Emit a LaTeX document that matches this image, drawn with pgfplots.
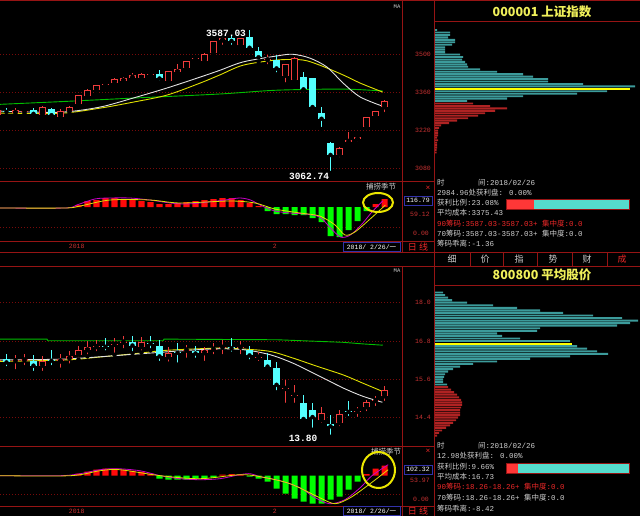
\documentclass[border=0pt]{standalone}
\usepackage{fontspec}
\setmainfont{Liberation Mono}
\newfontfamily\cjk{Noto Sans CJK SC}
\usepackage{pgfplots}
\pgfplotsset{compat=1.18}
\usepackage{pgfplotstable}

\definecolor{framered}{RGB}{150,20,20}
\definecolor{gridred}{RGB}{120,10,10}
\definecolor{lblred}{RGB}{200,50,50}
\definecolor{cred}{RGB}{240,60,60}
\definecolor{ccyan}{RGB}{84,255,255}
\definecolor{mred}{RGB}{255,10,10}
\definecolor{mgreen}{RGB}{0,255,0}
\definecolor{mawhite}{RGB}{225,225,225}
\definecolor{mayellow}{RGB}{225,225,0}
\definecolor{magreen}{RGB}{0,190,0}
\definecolor{mmag}{RGB}{200,0,200}
\definecolor{chipteal}{RGB}{60,155,155}
\definecolor{chipred}{RGB}{175,35,35}
\definecolor{chipyel}{RGB}{255,255,0}
\definecolor{ttlyel}{RGB}{240,240,90}
\definecolor{tgray}{RGB}{205,205,205}
\definecolor{tred}{RGB}{235,40,40}
\definecolor{navy}{RGB}{50,50,170}
\definecolor{pred}{RGB}{255,55,55}
\definecolor{pcyan}{RGB}{85,220,205}
\definecolor{ringyel}{RGB}{235,230,0}

% 000001 candles: index, open, high, low, close
\pgfplotstableread{
i o h l c
0 3277 3298 3272 3294
2 3283 3302 3268 3296
3 3288 3298 3282 3292
5 3276 3308 3272 3306
7 3268 3297 3260 3290
8 3290 3310 3287 3307
9 3316 3350 3314 3348
10 3346 3370 3345 3369
11 3368 3386 3365 3385
12 3386 3392 3380 3391
13 3393 3412 3387 3409
14 3401 3417 3398 3413
15 3413 3431 3401 3421
16 3412 3430 3406 3425
17 3423 3428 3419 3428
19 3400 3438 3398 3436
20 3433 3462 3430 3444
21 3448 3475 3446 3474
22 3481 3488 3476 3487
23 3474 3502 3470 3501
24 3502 3547 3500 3546
25 3550 3563 3526 3559
27 3532 3560 3527 3558
30 3477 3495 3455 3481
32 3420 3463 3388 3462
33 3404 3490 3400 3487
38 3130 3158 3113 3154
39 3177 3212 3172 3184
40 3187 3195 3172 3195
41 3231 3270 3228 3268
42 3272 3290 3257 3289
43 3304 3330 3279 3329
}\shUp
\pgfplotstableread{
i o h l c
1 3292 3301 3274 3287
4 3295 3300 3274 3280
6 3297 3302 3268 3275
18 3428 3442 3394 3410
26 3560 3566 3526 3548
28 3563 3587 3510 3523
29 3511 3524 3472 3488
31 3478 3495 3425 3447
34 3414 3435 3367 3370
35 3411 3413 3290 3305
36 3282 3305 3224 3262
37 3174 3176 3062.74 3129
}\shDn

% 800800 candles
\pgfplotstableread{
i o h l c
0 16.18 16.30 16.05 16.22
2 16.17 16.37 15.85 16.21
3 16.19 16.40 15.98 16.22
5 16.03 16.32 15.80 16.19
7 16.16 16.40 15.90 16.24
8 16.25 16.48 16.03 16.34
9 16.37 16.65 16.22 16.51
10 16.51 16.79 16.32 16.61
11 16.61 16.84 16.42 16.64
13 16.68 16.89 16.37 16.71
14 16.75 16.97 16.51 16.78
16 16.61 16.92 16.44 16.78
19 16.29 16.61 16.09 16.44
21 16.50 16.68 16.21 16.53
23 16.42 16.61 16.11 16.53
24 16.53 16.74 16.32 16.56
25 16.59 16.82 16.32 16.62
27 16.59 16.79 16.32 16.62
29 16.28 16.47 16.11 16.31
32 15.30 15.59 14.80 15.33
33 15.09 15.43 14.80 15.12
36 14.33 14.75 14.18 14.56
38 14.23 14.65 14.07 14.52
40 14.59 14.75 14.36 14.62
41 14.73 14.96 14.54 14.88
42 14.92 15.09 14.70 14.95
43 15.07 15.40 14.86 15.27
}\avUp
\pgfplotstableread{
i o h l c
1 16.24 16.40 15.95 16.13
4 16.16 16.37 15.80 16.03
6 16.21 16.51 15.98 16.18
12 16.65 16.89 16.44 16.62
15 16.76 16.97 16.42 16.66
17 16.75 16.97 16.51 16.72
18 16.63 16.84 16.11 16.32
20 16.46 16.74 16.06 16.43
22 16.50 16.63 16.21 16.41
26 16.60 16.89 16.40 16.57
28 16.53 16.65 16.16 16.35
30 16.21 16.42 15.90 16.00
31 15.95 16.13 15.19 15.43
34 14.86 15.12 14.23 14.36
35 14.63 14.86 14.02 14.42
37 14.21 14.49 13.80 14.13
39 14.61 14.91 14.39 14.58
}\avDn

\pgfplotsset{
  panel/.style={scale only axis, anchor=north west, axis line style={draw=none},
    tick style={draw=none}, xtick=\empty, ytick=\empty, clip=true},
  kline/.style={panel, ymajorgrids,
    grid style={gridred, line width=0.8pt, dash pattern=on 1pt off 2pt},
    yticklabel pos=right,
    yticklabel style={anchor=west, inner sep=0pt, xshift=13pt, text=lblred,
      font=\fontsize{6.5}{7}\selectfont}},
  wick/.style={only marks, mark=none, error bars/.cd, y dir=plus, y explicit,
    error mark=none, error bar style={draw=#1, line width=1pt}},
  body/.style={only marks, mark=none, error bars/.cd, y dir=plus, y explicit,
    error mark=none, error bar style={draw=#1, line width=6.5pt}},
  hollow/.style={only marks, mark=none, error bars/.cd, y dir=plus, y explicit,
    error mark=none, error bar style={draw=black, line width=4.5pt}},
  macd/.style={panel, ymajorgrids, yticklabels={},
    grid style={gridred, line width=0.8pt, dash pattern=on 1pt off 2pt},
    xticklabel style={anchor=center, yshift=-5.5pt, text=lblred,
      font=\fontsize{6.5}{7}\selectfont}},
}

\begin{document}
\begin{tikzpicture}[
  txt/.style={anchor=west, inner sep=0pt, text=tgray, font=\fontsize{7.5}{9}\selectfont},
  frame/.style={draw=framered, line width=1pt}]
\fill[black] (0,0) rectangle (640pt,-516pt);

% ---------- upper candles
\begin{axis}[kline, at={(0pt,-2pt)}, width=402pt, height=179.7pt,
  xmin=0.28, xmax=44.94, ymin=3030.7, ymax=3691.1,
  ytick={3080,3220,3360,3500}, yticklabels={3080,3220,3360,3500}]
\addplot[magreen, line width=0.9pt, smooth] coordinates {(0.28,3315) (7.7,3326) (15.06,3338) (24.7,3353) (31.06,3367) (38.4,3371) (42.8,3364)};
\addplot[mayellow, line width=0.9pt, smooth] coordinates {(0.28,3283) (6.94,3282) (11.39,3301) (15.06,3323) (18.83,3349) (22.5,3393) (24.7,3423) (27.3,3459) (31.06,3478) (33.9,3478) (35.8,3459) (38.4,3423) (40.3,3393) (42.8,3360)};
\addplot[mawhite, line width=0.9pt, smooth] coordinates {(0.28,3290) (6.94,3286) (11.39,3305) (15.06,3338) (18.83,3375) (22.5,3415) (24.7,3440) (27.3,3471) (31.06,3493) (32.8,3499) (34.7,3485) (36.6,3452) (38.4,3393) (40.3,3342) (42.8,3308)};
\addplot[wick=cred] table[x=i, y=l, y error expr=\thisrow{h}-\thisrow{l}] {\shUp};
\addplot[body=cred] table[x=i, y=o, y error expr={max(\thisrow{c}-\thisrow{o},3.7)}] {\shUp};
\addplot[hollow] table[x=i, y expr=\thisrow{o}+3.7, y error expr={max(\thisrow{c}-\thisrow{o}-7.4,0)}] {\shUp};
\addplot[wick=ccyan] table[x=i, y=l, y error expr=\thisrow{h}-\thisrow{l}] {\shDn};
\addplot[body=ccyan] table[x=i, y=c, y error expr={max(\thisrow{o}-\thisrow{c},3.7)}] {\shDn};
\end{axis}

% ---------- upper indicator
\begin{axis}[macd, at={(0pt,-182pt)}, width=402pt, height=59pt,
  xmin=0.28, xmax=44.94, ymin=-34, ymax=25, ytick={-20},
  xtick={8.8,30.8}, xticklabels={2018,2}]
\addplot[ybar, bar width=0.67, fill=mred, draw=none] coordinates {(9,2) (10,6) (11,7) (12,9) (13,9) (14,8) (15,7) (16,6) (17,5) (18,3) (19,3) (20,4) (21,5) (22,6) (23,7) (24,8) (25,9) (26,9) (27,7) (28,4) (29,1) (42,3) (43,8)};
\addplot[ybar, bar width=0.67, fill=mgreen, draw=none] coordinates {(30,-4) (31,-7) (32,-7) (33,-8) (34,-8) (35,-11) (36,-15) (37,-29) (38,-30) (39,-23) (40,-14) (41,-4)};
\addplot[mmag, line width=0.8pt, smooth] coordinates {(0.28,-1) (7.5,-1) (8.8,2) (10.8,8) (12.5,9) (14.7,9) (16.9,7) (19.2,4) (20.8,3) (22.5,4) (25.3,7) (26.9,9) (28.1,7) (29.4,1) (30.8,-4) (32.5,-6) (34.2,-7) (35.8,-10) (36.9,-20) (38.1,-30) (39.2,-28) (40.5,-17) (41.6,-5) (42.8,6)};
\addplot[mayellow, line width=0.8pt, smooth] coordinates {(0.28,-1) (7.5,-1) (9.2,1) (12.5,7) (16.9,7) (20.3,4) (25.8,6) (28.6,4) (30.8,-2) (33.6,-6) (35.8,-9) (37.5,-18) (38.6,-28) (39.7,-25) (41.4,-12) (43.1,2)};
\end{axis}

% ---------- lower candles
\begin{axis}[kline, at={(0pt,-266pt)}, width=402pt, height=180pt,
  xmin=0.28, xmax=44.94, ymin=13.514, ymax=19.149,
  ytick={14.4,15.6,16.8,18.0}, yticklabels={14.4,15.6,16.8,18.0}]
\addplot[magreen, line width=0.9pt] coordinates {(0.28,16.86) (5.5,16.86) (5.6,16.81) (18.4,16.81) (18.5,16.86) (31.06,16.84) (34.7,16.80) (38.4,16.76) (40.6,16.71) (42.8,16.67)};
\addplot[mayellow, line width=0.9pt, smooth] coordinates {(0.28,16.16) (7.7,16.21) (11.4,16.30) (15.8,16.42) (18.8,16.51) (24.7,16.58) (27.3,16.55) (30.3,16.475) (32.8,16.27) (35.5,16.01) (38.4,15.74) (40.6,15.48) (42.8,15.22)};
\addplot[mawhite, line width=0.9pt, smooth] coordinates {(0.28,16.21) (7.7,16.24) (15.8,16.40) (23.6,16.55) (27.3,16.53) (30.3,16.37) (32.8,16.11) (35.5,15.74) (38.4,15.33) (40.6,15.07) (42.8,14.88)};
\addplot[wick=cred] table[x=i, y=l, y error expr=\thisrow{h}-\thisrow{l}] {\avUp};
\addplot[body=cred] table[x=i, y=o, y error expr={max(\thisrow{c}-\thisrow{o},0.032)}] {\avUp};
\addplot[hollow] table[x=i, y expr=\thisrow{o}+0.032, y error expr={max(\thisrow{c}-\thisrow{o}-0.064,0)}] {\avUp};
\addplot[wick=ccyan] table[x=i, y=l, y error expr=\thisrow{h}-\thisrow{l}] {\avDn};
\addplot[body=ccyan] table[x=i, y=c, y error expr={max(\thisrow{o}-\thisrow{c},0.032)}] {\avDn};
\end{axis}

% ---------- lower indicator
\begin{axis}[macd, at={(0pt,-446pt)}, width=402pt, height=60pt,
  xmin=0.28, xmax=44.94, ymin=-30.3, ymax=29.7, ytick={-19},
  xtick={8.8,30.8}, xticklabels={2018,2}]
\addplot[ybar, bar width=0.67, fill=mred, draw=none] coordinates {(9,2) (10,4) (11,6) (12,7) (13,7) (14,6) (15,5) (16,4) (17,2) (25,1) (26,1.5) (27,1) (41,1.5) (42,7) (43,10)};
\addplot[ybar, bar width=0.67, fill=mgreen, draw=none] coordinates {(18,-3) (19,-4) (20,-4) (21,-4) (22,-3) (23,-3) (24,-2) (28,-1) (29,-3) (30,-6) (31,-13) (32,-18) (33,-23) (34,-26) (35,-28) (36,-28) (37,-24) (38,-21) (39,-14) (40,-6)};
\addplot[mmag, line width=0.8pt, smooth] coordinates {(0.28,0) (6.9,0) (9.2,2) (11.4,6) (13.3,7) (15.8,5) (18.1,0) (20.3,-3) (22.5,-4) (24.7,-3) (26.9,1) (28.1,2) (29.2,-1) (31.4,-5) (33.6,-12) (35.3,-22) (36.9,-28) (38.6,-24) (40.3,-12) (41.6,0) (43.4,11)};
\addplot[mayellow, line width=0.8pt, smooth] coordinates {(0.28,0) (8.1,0) (11.4,5) (13.6,6) (18.1,0) (22.5,-3) (26.9,1) (29.2,-1) (32.5,-8) (35.8,-22) (37.5,-28) (39.2,-22) (41.4,-8) (43.4,6)};
\end{axis}

% ---------- chip distributions
\begin{axis}[panel, at={(435pt,-2pt)}, width=205pt, height=179.7pt,
  xmin=0, xmax=205, ymin=3030.7, ymax=3691.1]
\addplot[xbar, bar width=6.8, fill=chipteal, draw=none] coordinates {(2,3588) (15,3579) (15,3570) (13,3561) (20,3552) (20,3543) (17,3534) (10,3525) (10,3516) (10,3507) (25,3498) (28,3489) (27,3480) (30,3471) (32,3462) (33,3453) (45,3444) (62,3435) (88,3426) (98,3417) (113,3408) (113,3399) (148,3390) (200,3381) (172,3363) (142,3354) (88,3345) (72,3336) (32,3327)};
\addplot[xbar, bar width=6.8, fill=chipred, draw=none] coordinates {(38,3318) (55,3309) (72,3300) (60,3291) (50,3282) (43,3273) (33,3264) (22,3255) (14,3246) (6,3237) (4,3228) (3,3219) (3,3210) (3,3201) (2,3192) (3,3183) (2,3174) (2,3165) (2,3156) (1.5,3147) (1.5,3138)};
\addplot[xbar, bar width=6.8, fill=chipyel, draw=none] coordinates {(195,3372)};
\end{axis}
\begin{axis}[panel, at={(435pt,-266pt)}, width=205pt, height=180pt,
  xmin=0, xmax=205, ymin=13.514, ymax=19.149]
\addplot[xbar, bar width=0.06, fill=chipteal, draw=none] coordinates {(8,18.32) (10,18.24) (13,18.16) (17,18.08) (32,18.00) (58,17.92) (82,17.84) (105,17.76) (128,17.68) (158,17.60) (187,17.52) (203,17.44) (195,17.36) (182,17.28) (105,17.20) (102,17.12) (62,17.04) (67,16.96) (85,16.88) (135,16.80) (142,16.64) (152,16.56) (162,16.48) (173,16.40) (135,16.32) (95,16.24) (62,16.16) (38,16.08) (25,16.00) (18,15.92) (13,15.84) (10,15.76) (9,15.68) (8,15.60) (8,15.52) (12,15.44)};
\addplot[xbar, bar width=0.06, fill=chipred, draw=none] coordinates {(13,15.36) (16,15.28) (19,15.20) (22,15.12) (24,15.04) (26,14.96) (27,14.88) (27,14.80) (26,14.72) (25,14.64) (25,14.56) (25,14.48) (23,14.40) (21,14.32) (18,14.24) (15,14.16) (11,14.08) (7,14.00) (4,13.92) (2,13.84)};
\addplot[xbar, bar width=0.06, fill=chipyel, draw=none] coordinates {(137,16.72)};
\end{axis}

% ---------- profit ratio bars
\begin{axis}[panel, at={(506pt,-199pt)}, width=123pt, height=10pt,
  xmin=0, xmax=100, ymin=-0.5, ymax=0.5, xbar stacked, bar width=1]
\addplot[fill=pred, draw=none] coordinates {(23.08,0)};
\addplot[fill=pcyan, draw=none] coordinates {(76.92,0)};
\end{axis}
\begin{axis}[panel, at={(506pt,-463pt)}, width=123pt, height=10pt,
  xmin=0, xmax=100, ymin=-0.5, ymax=0.5, xbar stacked, bar width=1]
\addplot[fill=pred, draw=none] coordinates {(9.66,0)};
\addplot[fill=pcyan, draw=none] coordinates {(90.34,0)};
\end{axis}
\draw[frame] (506pt,-199pt) rectangle (629pt,-209pt);
\draw[frame] (506pt,-463pt) rectangle (629pt,-473pt);

% ---------- frames
\draw[frame] (0,-1pt) -- (640pt,-1pt);
\draw[frame] (402pt,0) -- (402pt,-252pt);
\draw[frame] (402pt,-266pt) -- (402pt,-516pt);
\draw[frame] (434.5pt,0) -- (434.5pt,-516pt);
\draw[frame] (0,-181.7pt) -- (434.5pt,-181.7pt);
\draw[frame] (0,-241pt) -- (434.5pt,-241pt);
\draw[frame] (0,-252pt) -- (640pt,-252pt);
\draw[frame] (434.5pt,-22pt) -- (640pt,-22pt);
\draw[frame] (0,-266pt) -- (640pt,-266pt);
\draw[frame] (434.5pt,-285pt) -- (640pt,-285pt);
\draw[frame] (0,-446pt) -- (434.5pt,-446pt);
\draw[frame] (0,-506pt) -- (434.5pt,-506pt);
\foreach \xx in {470,503,537,572,607} \draw[frame] (\xx pt,-252pt) -- (\xx pt,-266pt);

% ---------- titles and tabs
\node[text=ttlyel, font=\fontsize{12.5}{14}\selectfont\cjk\bfseries] at (542pt,-12pt) {000001 上证指数};
\node[text=ttlyel, font=\fontsize{12.5}{14}\selectfont\cjk\bfseries] at (542pt,-275pt) {800800 平均股价};
\foreach \xx/\tt in {452/细,485/价,519/指,553/势,587/财}
  \node[text=tgray, font=\fontsize{9}{10}\selectfont\cjk] at (\xx pt,-259pt) {\tt};
\node[text=tred, font=\fontsize{9}{10}\selectfont\cjk] at (622pt,-259pt) {成};

% ---------- chart labels
\node[text=tgray, font=\fontsize{5.5}{6}\selectfont] at (397pt,-7pt) {MA};
\node[text=tgray, font=\fontsize{5.5}{6}\selectfont] at (397pt,-271pt) {MA};
\node[text=white, font=\fontsize{9.5}{10}\selectfont\bfseries] at (226pt,-33pt) {3587.03};
\node[text=white, font=\fontsize{9.5}{10}\selectfont\bfseries] at (309pt,-176pt) {3062.74};
\node[text=white, font=\fontsize{9.5}{10}\selectfont\bfseries] at (303pt,-438pt) {13.80};

\node[text=tgray, font=\fontsize{7.5}{8}\selectfont\cjk] at (381pt,-187pt) {捕捞季节};
\node[text=tgray, font=\fontsize{7.5}{8}\selectfont\cjk] at (386pt,-452pt) {捕捞季节};
\draw[ringyel, line width=2pt] (378pt,-202.5pt) ellipse (15pt and 9.5pt);
\draw[ringyel, line width=2pt] (378.5pt,-470pt) ellipse (16.5pt and 18pt);
\node[text=tred, font=\fontsize{8}{8}\selectfont] at (428pt,-188pt) {×};
\node[text=tred, font=\fontsize{8}{8}\selectfont] at (428pt,-451pt) {×};

\draw[navy, line width=0.8pt] (404pt,-196pt) rectangle (432pt,-205pt);
\node[text=white, font=\fontsize{6.5}{7}\selectfont] at (418pt,-200.5pt) {116.79};
\node[txt, text=lblred, font=\fontsize{6.5}{7}\selectfont] at (410pt,-214pt) {59.12};
\node[txt, text=lblred, font=\fontsize{6.5}{7}\selectfont] at (413pt,-233pt) {0.00};
\draw[navy, line width=0.8pt] (404pt,-465pt) rectangle (432pt,-474pt);
\node[text=white, font=\fontsize{6.5}{7}\selectfont] at (418pt,-469.5pt) {102.32};
\node[txt, text=lblred, font=\fontsize{6.5}{7}\selectfont] at (410pt,-480pt) {53.97};
\node[txt, text=lblred, font=\fontsize{6.5}{7}\selectfont] at (413pt,-499pt) {0.00};

\draw[navy, line width=0.8pt] (343pt,-242.5pt) rectangle (400pt,-251.5pt);
\node[text=white, font=\fontsize{6.5}{7}\selectfont] at (371.5pt,-247pt) {2018/ 2/26/{\cjk 一}};
\draw[navy, line width=0.8pt] (343pt,-506.5pt) rectangle (400pt,-515.5pt);
\node[text=white, font=\fontsize{6.5}{7}\selectfont] at (371.5pt,-511pt) {2018/ 2/26/{\cjk 一}};
\node[text=tred, font=\fontsize{9}{10}\selectfont\cjk] at (418pt,-247pt) {日 线};
\node[text=tred, font=\fontsize{9}{10}\selectfont\cjk] at (418pt,-511pt) {日 线};

% ---------- info text, upper
\node[txt] at (437pt,-183pt) {{\cjk 时}};
\node[txt] at (478pt,-183pt) {{\cjk 间}:2018/02/26};
\node[txt] at (437pt,-192.5pt) {2984.96{\cjk 处获利盘}: 0.00\%};
\node[txt] at (437pt,-203pt) {{\cjk 获利比例}:23.08\%};
\node[txt] at (437pt,-213pt) {{\cjk 平均成本}:3375.43};
\node[txt, text=tred] at (437pt,-223.5pt) {90{\cjk 筹码}:3587.03-3587.03+ {\cjk 集中度}:0.0};
\node[txt] at (437pt,-233.5pt) {70{\cjk 筹码}:3587.03-3587.03+ {\cjk 集中度}:0.0};
\node[txt] at (437pt,-244pt) {{\cjk 筹码乖离}:-1.36};

% ---------- info text, lower
\node[txt] at (437pt,-446pt) {{\cjk 时}};
\node[txt] at (478pt,-446pt) {{\cjk 间}:2018/02/26};
\node[txt] at (437pt,-456pt) {12.98{\cjk 处获利盘}: 0.00\%};
\node[txt] at (437pt,-467pt) {{\cjk 获利比例}:9.66\%};
\node[txt] at (437pt,-477pt) {{\cjk 平均成本}:16.73};
\node[txt, text=tred] at (437pt,-487pt) {90{\cjk 筹码}:18.26-18.26+ {\cjk 集中度}:0.0};
\node[txt] at (437pt,-498pt) {70{\cjk 筹码}:18.26-18.26+ {\cjk 集中度}:0.0};
\node[txt] at (437pt,-509pt) {{\cjk 筹码乖离}:-8.42};

\pgfresetboundingbox
\path[use as bounding box] (0,0) rectangle (640pt,-516pt);
\end{tikzpicture}
\end{document}
